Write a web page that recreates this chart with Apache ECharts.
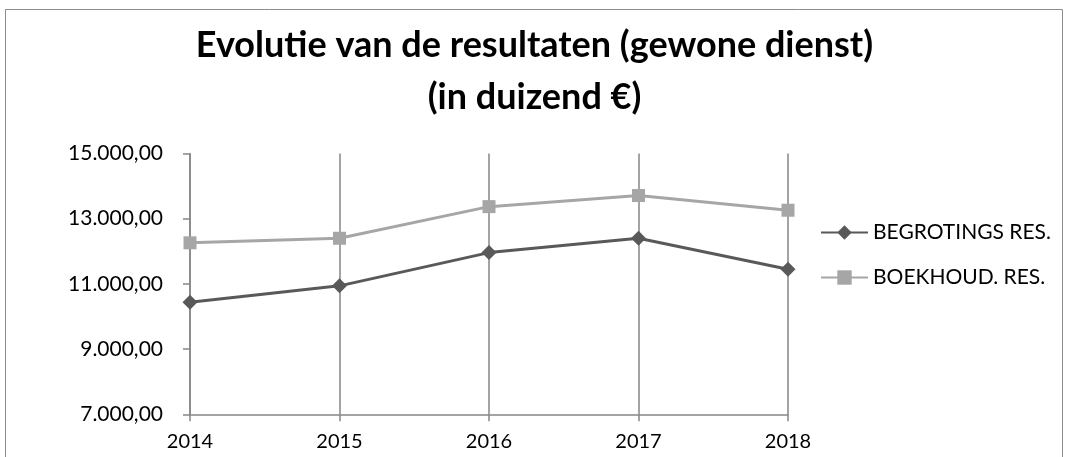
<!DOCTYPE html>
<html>
<head>
<meta charset="utf-8">
<script src="https://cdn.jsdelivr.net/npm/echarts@6/dist/echarts.min.js"></script>
<style>html,body{margin:0;padding:0;background:#fff}#c{width:1069px;height:457px}</style>
</head>
<body>
<div id="c"></div>
<script>
const categories = ['2014', '2015', '2016', '2017', '2018'];
const begrotingsRes = [10440, 10940, 11960, 12400, 11450];
const boekhoudRes = [12260, 12400, 13370, 13710, 13260];
const seriesNames = ['BEGROTINGS RES.', 'BOEKHOUD. RES.'];
const titleLines = ['Evolutie van de resultaten (gewone dienst)', '(in duizend €)'];

function fmt(v) {
  const s = Math.round(v).toString().replace(/\B(?=(\d{3})+(?!\d))/g, '.');
  return s + ',00';
}

const chart = echarts.init(document.getElementById('c'), null, {renderer: 'canvas'});
chart.setOption({
  animation: false,
  backgroundColor: '#fff',
  graphic: [{
    type: 'rect', shape: {x: 5.5, y: 9.5, width: 1057, height: 460},
    style: {fill: 'none', stroke: '#8c8c8c', lineWidth: 1}, z: -1
  }],
  title: {
    text: titleLines.join('\n'),
    left: 'center', top: 14,
    textStyle: {fontFamily: 'Lato', fontWeight: 'bold', fontSize: 36, color: '#000', lineHeight: 52}
  },
  legend: {
    orient: 'vertical', left: 815, top: 217,
    itemWidth: 47, itemHeight: 18, itemGap: 24,
    textStyle: {fontFamily: 'Lato', fontSize: 21, color: '#000'},
    data: seriesNames
  },
  grid: {left: 190, right: 281, top: 153.5, bottom: 42.7},
  xAxis: {
    type: 'category', data: categories, boundaryGap: false,
    axisLine: {lineStyle: {color: '#868686', width: 1.5}},
    axisTick: {show: true, length: 7, lineStyle: {color: '#868686', width: 1.5}},
    axisLabel: {fontFamily: 'Lato', fontSize: 20, color: '#000', margin: 17},
    splitLine: {show: true, lineStyle: {color: '#868686', width: 1.5}}
  },
  yAxis: {
    type: 'value', min: 7000, max: 15000, interval: 2000,
    axisLine: {show: true, lineStyle: {color: '#868686', width: 1.5}},
    axisTick: {show: true, length: 7, lineStyle: {color: '#868686', width: 1.5}},
    axisLabel: {fontFamily: 'Lato', fontSize: 21, color: '#000', margin: 27, formatter: fmt},
    splitLine: {show: false}
  },
  series: [{
    name: seriesNames[0], type: 'line', data: begrotingsRes,
    symbol: 'diamond', symbolSize: [15, 15],
    lineStyle: {color: '#595959', width: 3},
    itemStyle: {color: '#595959'}
  }, {
    name: seriesNames[1], type: 'line', data: boekhoudRes,
    symbol: 'rect', symbolSize: [13, 13],
    lineStyle: {color: '#a6a6a6', width: 3},
    itemStyle: {color: '#a6a6a6'}
  }]
});
</script>
</body>
</html>
